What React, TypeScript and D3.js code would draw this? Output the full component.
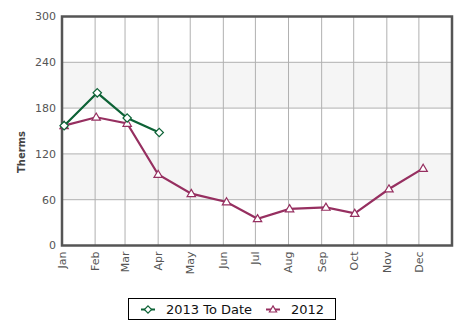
import React from "react";
import * as d3 from "d3";

const months = ["Jan", "Feb", "Mar", "Apr", "May", "Jun", "Jul", "Aug", "Sep", "Oct", "Nov", "Dec"];
const yTicks = [0, 60, 120, 180, 240, 300];

const dates2013 = ["2013-01-03", "2013-02-03", "2013-03-03", "2013-04-02"];
const values2013 = [157, 200, 167, 148];

const dates2012 = ["2013-01-03", "2013-02-02", "2013-03-03", "2013-04-01", "2013-05-02", "2013-06-04", "2013-07-03", "2013-08-02", "2013-09-05", "2013-10-02", "2013-11-03", "2013-12-05"];
const values2012 = [157, 168, 160, 93, 68, 57, 35, 48, 50, 42, 74, 101];

const series = [
  { name: "2013 To Date", dates: dates2013, values: values2013, color: "#0d6236", marker: "diamond" },
  { name: "2012", dates: dates2012, values: values2012, color: "#962f60", marker: "triangle" },
];

const W = 461, H = 334;
const L = 62, R = 452, T = 16.5, B = 245.5;
const font = "DejaVu Sans, Verdana, sans-serif";

export default function App() {
  const parse = d3.timeParse("%Y-%m-%d");
  const x = d3.scaleTime().domain([new Date(2013, 0, 1), new Date(2014, 0, 1)]).range([L, R]);
  const y = d3.scaleLinear().domain([0, 300]).range([B, T]);
  const monthDates = months.map((_, i) => new Date(2013, i, 1));

  const line = d3.line<[Date, number]>().x(d => x(d[0])).y(d => y(d[1]));

  const marker = (kind: string, cx: number, cy: number, color: string, key: any, s = 4.2) => {
    if (kind === "diamond") {
      return <path key={key} d={`M${cx},${cy - s} L${cx + s},${cy} L${cx},${cy + s} L${cx - s},${cy} Z`} fill="#fff" stroke={color} strokeWidth={1.2} />;
    }
    return <path key={key} d={`M${cx},${cy - s} L${cx + s},${cy + s * 0.7} L${cx - s},${cy + s * 0.7} Z`} fill="#fff" stroke={color} strokeWidth={1.2} />;
  };

  const bands: [number, number][] = [[60, 120], [180, 240]];

  return (
    <svg width={W} height={H} style={{ position: "absolute", left: 0, top: 0 }} fontFamily={font}>
      <rect x={0} y={0} width={W} height={H} fill="#fff" />
      {bands.map(([a, b], i) => (
        <rect key={i} x={L} y={y(b)} width={R - L} height={y(a) - y(b)} fill="#f5f5f5" />
      ))}
      {yTicks.map(t => (
        <line key={"gy" + t} x1={L} x2={R} y1={y(t)} y2={y(t)} stroke="#b0b0b0" strokeWidth={1} />
      ))}
      {monthDates.map((d, i) => (
        <line key={"gx" + i} x1={x(d)} x2={x(d)} y1={T} y2={B} stroke="#b0b0b0" strokeWidth={1} />
      ))}
      <rect x={L} y={T} width={R - L} height={B - T} fill="none" stroke="#555" strokeWidth={2.5} />
      {yTicks.map(t => (
        <text key={"ty" + t} x={56} y={y(t)} dy="0.35em" textAnchor="end" fontSize={11} fill="#555">{t}</text>
      ))}
      {monthDates.map((d, i) => (
        <text key={"tx" + i} transform={`translate(${x(d)},${B + 6}) rotate(-90)`} textAnchor="end" dy="0.35em" fontSize={11} fill="#555">{months[i]}</text>
      ))}
      <text transform={`translate(21,152) rotate(-90)`} textAnchor="middle" dy="0.35em" fontSize={10} fontWeight="bold" fill="#444">Therms</text>
      {[...series].reverse().map(s => {
        const pts: [Date, number][] = s.dates.map((d, i) => [parse(d) as Date, s.values[i]]);
        return (
          <g key={s.name}>
            <path d={line(pts) || ""} fill="none" stroke={s.color} strokeWidth={2.2} />
            {pts.map((p, i) => marker(s.marker, x(p[0]), y(p[1]), s.color, i))}
          </g>
        );
      })}
      <rect x={128.5} y={298.5} width={207} height={21} fill="#fff" stroke="#000" strokeWidth={1} />
      {series.map((s, i) => {
        const lx = i === 0 ? 141 : 266;
        const tx = i === 0 ? 166 : 291;
        const cy = 309.5;
        return (
          <g key={"lg" + i}>
            <line x1={lx} x2={lx + 14} y1={cy} y2={cy} stroke={s.color} strokeWidth={2} />
            {marker(s.marker, lx + 7, cy, s.color, "m", 3.6)}
            <text x={tx} y={cy} dy="0.36em" fontSize={13} fill="#111">{s.name}</text>
          </g>
        );
      })}
    </svg>
  );
}
